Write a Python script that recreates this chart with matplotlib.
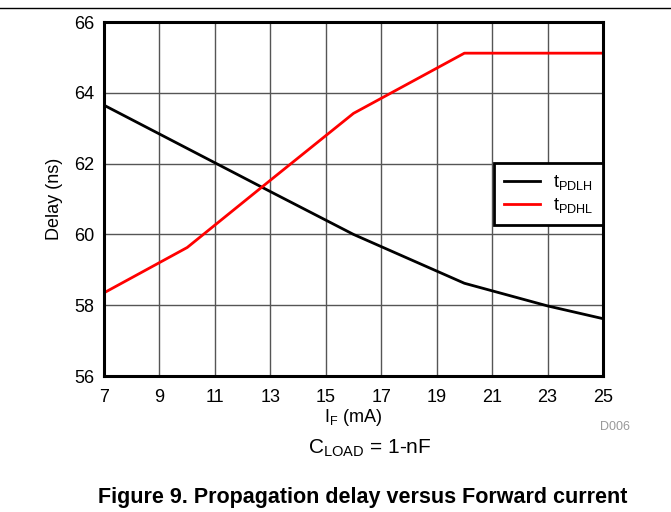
# Propagation delay versus forward current
import matplotlib.pyplot as plt

plt.rcParams['font.family'] = ['Liberation Sans', 'DejaVu Sans']
plt.rcParams['mathtext.fontset'] = 'custom'
plt.rcParams['mathtext.rm'] = 'Liberation Sans'

# data
if_ma = [7, 10, 13, 16, 20, 23, 25]
t_pdlh = [63.65, 62.43, 61.21, 60.0, 58.62, 57.98, 57.62]
t_pdhl = [58.35, 59.63, 61.53, 63.42, 65.12, 65.12, 65.12]
x_ticks = [7, 9, 11, 13, 15, 17, 19, 21, 23, 25]
y_ticks = [56, 58, 60, 62, 64, 66]

fig = plt.figure(figsize=(6.71, 5.12), dpi=100)
ax = fig.add_axes([0.155, 0.2656, 0.7437, 0.6914])

ax.plot(if_ma, t_pdlh, color='black', linewidth=2, label=r'$\mathregular{t_{PDLH}}$')
ax.plot(if_ma, t_pdhl, color='#ff0000', linewidth=2, label=r'$\mathregular{t_{PDHL}}$')

ax.set_xlim(7, 25)
ax.set_ylim(56, 66)
ax.set_xticks(x_ticks)
ax.set_yticks(y_ticks)
ax.tick_params(length=0, labelsize=13)
ax.tick_params(axis='y', pad=7)
ax.tick_params(axis='x', pad=9)
ax.grid(True, color='#555555', linewidth=1)
ax.set_axisbelow(True)
for s in ax.spines.values():
    s.set_linewidth(2.2)
    s.set_zorder(5)

ax.set_xlabel(r'$\mathregular{I_F}$ (mA)', fontsize=13, labelpad=1)
ax.set_ylabel('Delay (ns)', fontsize=13, labelpad=8)

leg = ax.legend(loc='upper right', bbox_to_anchor=(1.0, 0.602), fontsize=13,
                frameon=True, fancybox=False, framealpha=1, edgecolor='black',
                handlelength=2.0, borderpad=0.55, labelspacing=0.25,
                handletextpad=0.7, borderaxespad=0)
leg.get_frame().set_linewidth(2)

# extra text under the plot
fig.text(0.917, 0.166, 'D006', fontsize=9, color='#999999', ha='center', va='center')
fig.text(0.551, 0.125, r'$\mathregular{C_{LOAD}}$ = 1-nF', fontsize=15, ha='center', va='center')
fig.text(0.54, 0.029, 'Figure 9. Propagation delay versus Forward current',
         fontsize=15.5, fontweight='bold', ha='center', va='center')

# thin rule at the top of the page
fig.add_artist(plt.Line2D([0, 1], [0.985, 0.985], color='black', linewidth=1))

fig.savefig('out.png', dpi=100)
